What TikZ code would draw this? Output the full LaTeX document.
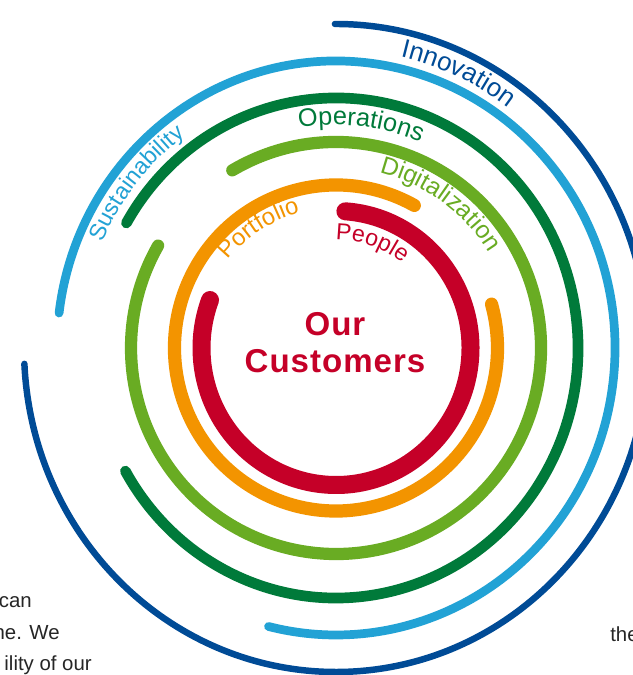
\documentclass[tikz,border=0pt]{standalone}
\usepackage{fontspec}
\setmainfont{Liberation Sans}
\newfontfamily\ringfont[LetterSpace=3]{Liberation Sans}
\usetikzlibrary{calc}
\usetikzlibrary{decorations.text}

\definecolor{pRed}{RGB}{197,0,40}
\definecolor{pOrange}{RGB}{243,148,0}
\definecolor{pLightGreen}{RGB}{105,172,35}
\definecolor{pDarkGreen}{RGB}{0,122,58}
\definecolor{pLightBlue}{RGB}{34,162,213}
\definecolor{pDarkBlue}{RGB}{0,75,150}

\begin{document}
\begin{tikzpicture}[x=0.025cm, y=0.025cm,
    ringline/.style={draw=#1, line cap=round},
    fragment/.style={inner sep=0, text=black!85, font=\fontsize{14.5}{16}\selectfont}]
    \path[use as bounding box, fill=white] (0,0) rectangle (632,675);
    \coordinate (c) at (336,327);

    % rings, inside out
    \draw[ringline=pRed, line width=12.8pt] ($(c)+(86:134.5 and 137)$) arc[start angle=86, end angle=-200.5, x radius=134.5, y radius=137];
    \draw[ringline=pOrange, line width=9.4pt] ($(c)+(61:161.5 and 163)$) arc[start angle=61, end angle=375.6, x radius=161.5, y radius=163];
    \draw[ringline=pLightGreen, line width=8.7pt] ($(c)+(120.4:205 and 206)$) arc[start angle=120.4, end angle=-209.8, x radius=205, y radius=206];
    \draw[ringline=pDarkGreen, line width=7.6pt] ($(c)+(150:242 and 250)$) arc[start angle=150, end angle=-150.5, x radius=242, y radius=250];
    \draw[ringline=pLightBlue, line width=6.2pt] ($(c)+(173:279 and 287)$) arc[start angle=173, end angle=-104, x radius=279, y radius=287];
    \draw[ringline=pDarkBlue, line width=4.6pt] ($(c)+(90.2:312 and 324)$) arc[start angle=90.2, end angle=-177.2, x radius=312, y radius=324];

    % ring labels
    \path[decorate, decoration={text along path, text align=center,
        text={|\ringfont\fontsize{18.5}{22}\selectfont\color{pDarkBlue}|Innovation}}]
        ($(c)+(100.5:289 and 299)$) arc[start angle=100.5, end angle=30.5, x radius=289, y radius=299];
    \path[decorate, decoration={text along path, text align=center,
        text={|\ringfont\fontsize{16.5}{20}\selectfont\color{pLightBlue}|Sustainability}}]
        ($(c)+(181:255 and 263)$) arc[start angle=181, end angle=101, x radius=255, y radius=263];
    \path[decorate, decoration={text along path, text align=center,
        text={|\ringfont\fontsize{18}{21}\selectfont\color{pDarkGreen}|Operations}}]
        ($(c)+(123.5:217 and 223)$) arc[start angle=123.5, end angle=43.5, x radius=217, y radius=223];
    \path[decorate, decoration={text along path, text align=center,
        text={|\ringfont\fontsize{17.5}{20}\selectfont\color{pLightGreen}|Digitalization}}]
        ($(c)+(104:180 and 181)$) arc[start angle=104, end angle=4, x radius=180, y radius=181];
    \path[decorate, decoration={text along path, text align=center,
        text={|\ringfont\fontsize{17}{20}\selectfont\color{pOrange}|Portfolio}}]
        ($(c)+(168:139 and 140)$) arc[start angle=168, end angle=78, x radius=139, y radius=140];
    \path[decorate, decoration={text along path, text align=center,
        text={|\ringfont\fontsize{16.5}{19}\selectfont\color{pRed}|People}}]
        ($(c)+(116:107 and 108)$) arc[start angle=116, end angle=26, x radius=107, y radius=108];

    % centre
    \node (our) [anchor=base, text=pRed, font=\ringfont\bfseries\fontsize{23.5}{27}\selectfont] at (335,339) {Our};
    \node (customers) [anchor=base, text=pRed, font=\ringfont\bfseries\fontsize{23.5}{27}\selectfont] at (335,302) {Customers};

    % cut page text at the edges
    \node (frag1) [fragment, anchor=base east] at (32,67) {can};
    \node (frag2) [fragment, anchor=base east] at (60,35) {ne. We};
    \node (frag3) [fragment, anchor=base east] at (92,4) {ility of our};
    \node (frag4) [fragment, anchor=base west] at (610,33) {the};
\end{tikzpicture}
\end{document}
